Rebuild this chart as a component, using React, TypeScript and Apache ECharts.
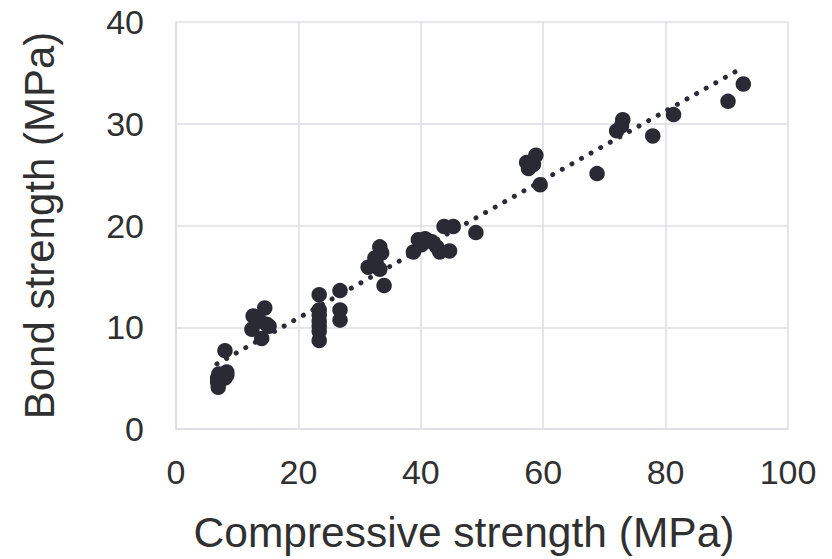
import React, { useEffect, useRef } from "react";
import * as echarts from "echarts";

const xTicks = [0, 20, 40, 60, 80, 100];
const yTicks = [0, 10, 20, 30, 40];

const compressive = [
  6.9, 6.8, 6.8, 7.0, 8.0, 8.3, 8.3, 8.0,
  12.6, 14.5, 12.4, 14.0, 14.8, 13.7, 15.2,
  23.4, 23.4, 23.4, 23.4, 23.4, 23.4, 23.4,
  26.8, 26.8, 26.8,
  33.3, 33.6, 32.5, 31.4, 33.3, 32.7, 34.0,
  38.8, 39.6, 40.7, 41.8, 42.6, 43.1, 44.7, 43.8, 45.3, 49.0, 40.1,
  57.3, 57.6, 58.8, 58.4, 59.5,
  68.8, 72.0, 73.0, 72.8, 77.9, 81.3, 90.2, 92.7,
];
const bond = [
  4.1, 4.6, 5.0, 5.4, 5.0, 5.3, 5.6, 7.7,
  11.1, 11.9, 9.8, 8.9, 10.3, 10.6, 10.1,
  13.2, 11.7, 11.2, 10.6, 10.1, 9.6, 8.7,
  13.6, 11.7, 10.7,
  17.9, 17.3, 16.8, 15.9, 15.7, 16.3, 14.1,
  17.4, 18.6, 18.7, 18.4, 17.9, 17.4, 17.5, 19.9, 19.9, 19.3, 18.1,
  26.2, 25.6, 26.9, 26.0, 24.0,
  25.1, 29.3, 30.4, 29.8, 28.8, 30.9, 32.2, 33.9,
];

// Linear trendline
const trendSlope = 0.339;
const trendIntercept = 4.13;
const trendRange = [6.7, 92.8];

const markColor = "#2a2a34";
const textColor = "#303030";
const gridColor = "#dcdce3";
const font = "Liberation Sans, Arial, sans-serif";

export default function App() {
  const ref = useRef<HTMLDivElement>(null);
  useEffect(() => {
    document.body.style.margin = "0";
    if (!ref.current) return;
    const chart = echarts.init(ref.current, null, { renderer: "svg" });
    const points = compressive.map((x, i) => [x, bond[i]]);
    const trend = trendRange.map((x) => [x, trendSlope * x + trendIntercept]);
    chart.setOption({
      animation: false,
      grid: { left: 176, right: 44, top: 22, bottom: 127 },
      xAxis: {
        type: "value",
        min: xTicks[0],
        max: xTicks[xTicks.length - 1],
        interval: 20,
        name: "Compressive strength (MPa)",
        nameLocation: "middle",
        nameGap: 82,
        nameTextStyle: {
          color: textColor,
          fontSize: 42.5,
          fontFamily: font,
          padding: [0, 36, 0, 0],
        },
        axisLine: { show: true, lineStyle: { color: gridColor, width: 1.5 } },
        axisTick: { show: false },
        axisLabel: { color: textColor, fontSize: 34, fontFamily: font, margin: 26 },
        splitLine: { show: true, lineStyle: { color: gridColor, width: 1.5 } },
      },
      yAxis: {
        type: "value",
        min: yTicks[0],
        max: yTicks[yTicks.length - 1],
        interval: 10,
        name: "Bond strength (MPa)",
        nameLocation: "middle",
        nameGap: 116,
        nameRotate: 90,
        nameTextStyle: { color: textColor, fontSize: 42, fontFamily: font },
        axisLine: { show: true, lineStyle: { color: gridColor, width: 1.5 } },
        axisTick: { show: false },
        axisLabel: { color: textColor, fontSize: 34, fontFamily: font, margin: 32 },
        splitLine: { show: true, lineStyle: { color: gridColor, width: 1.5 } },
      },
      series: [
        {
          type: "scatter",
          data: points,
          symbol: "circle",
          symbolSize: 15.5,
          itemStyle: { color: markColor, opacity: 1 },
          z: 2,
        },
        {
          type: "line",
          data: trend,
          symbol: "none",
          lineStyle: { color: markColor, width: 5, type: [0.01, 11], cap: "round" },
          z: 3,
        },
      ],
    });
    return () => chart.dispose();
  }, []);
  return <div ref={ref} style={{ width: 832, height: 559 }} />;
}
